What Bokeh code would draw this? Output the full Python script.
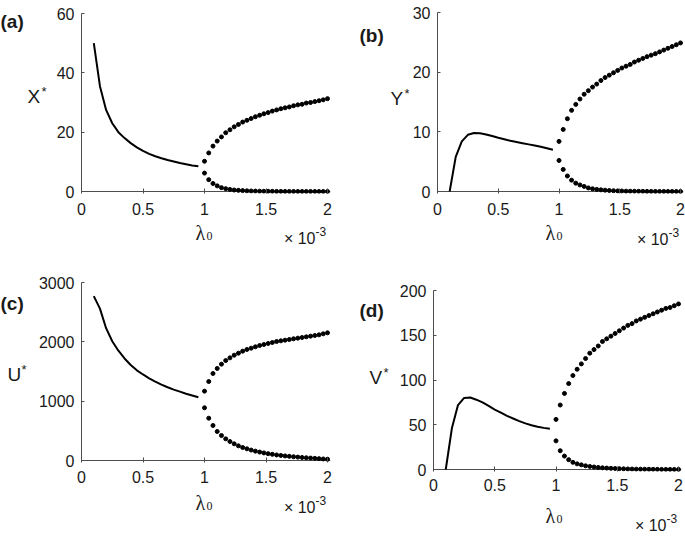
from bokeh.plotting import figure
from bokeh.models import Range1d, FixedTicker, Label, Span
from bokeh.layouts import column, row
from bokeh.embed import file_html
from bokeh.resources import INLINE

# ---------------- data (lambda_0 in units of 1e-3) ----------------
lam_solid = [0.10, 0.15, 0.20, 0.25, 0.30, 0.35, 0.40, 0.45, 0.50,
             0.55, 0.60, 0.65, 0.70, 0.75, 0.80, 0.85, 0.90, 0.95]
lam_dots = [1.0, 1.0345, 1.069, 1.1034, 1.1379, 1.1724, 1.2069, 1.2414,
            1.2759, 1.3103, 1.3448, 1.3793, 1.4138, 1.4483, 1.4828, 1.5172,
            1.5517, 1.5862, 1.6207, 1.6552, 1.6897, 1.7241, 1.7586, 1.7931,
            1.8276, 1.8621, 1.8966, 1.931, 1.9655, 2.0]
x_ticks = [0, 0.5, 1, 1.5, 2]
x_tick_labels = ["0", "0.5", "1", "1.5", "2"]

# (a) X*
X_solid = [50, 35.5, 27.5, 23.0, 20.0, 18.0, 16.3, 14.9, 13.7, 12.7, 11.9,
           11.2, 10.6, 10.1, 9.6, 9.2, 8.8, 8.5]
X_upper = [10.2, 13.0, 15.3, 17.0, 18.4, 19.8, 20.8, 21.8, 22.6, 23.4,
           24.0, 24.6, 25.2, 25.7, 26.2, 26.6, 27.1, 27.5, 27.9, 28.2,
           28.5, 28.9, 29.2, 29.4, 29.8, 30.0, 30.3, 30.6, 30.9, 31.3]
X_lower = [6.2, 4.0, 2.7, 1.9, 1.3, 0.95, 0.7, 0.5, 0.4, 0.3,
           0.22, 0.17, 0.13, 0.1, 0.08, 0.06, 0.05, 0.04, 0.03, 0.02,
           0.02, 0.015, 0.01, 0.01, 0.01, 0.005, 0.005, 0.005, 0.0, 0.0]
X_yticks = [0, 20, 40, 60]

# (b) Y*
Y_solid = [0, 5.8, 8.4, 9.5, 9.8, 9.75, 9.55, 9.3, 9.0, 8.75, 8.5, 8.3,
           8.1, 7.9, 7.7, 7.5, 7.25, 7.0]
Y_upper = [8.4, 10.4, 12.2, 13.6, 14.6, 15.5, 16.3, 16.9, 17.5, 18.0,
           18.6, 19.1, 19.5, 19.9, 20.3, 20.7, 21.0, 21.3, 21.7, 22.0,
           22.3, 22.6, 22.85, 23.1, 23.4, 23.7, 24.0, 24.3, 24.6, 24.9]
Y_lower = [5.2, 3.7, 2.6, 1.9, 1.4, 1.1, 0.85, 0.6, 0.45, 0.35,
           0.28, 0.22, 0.17, 0.13, 0.1, 0.08, 0.06, 0.05, 0.04, 0.03,
           0.025, 0.02, 0.015, 0.01, 0.01, 0.01, 0.005, 0.005, 0.005, 0.0]
Y_yticks = [0, 10, 20, 30]

# (c) U*
U_solid = [2770, 2560, 2230, 2010, 1850, 1720, 1610, 1520, 1450, 1385,
           1330, 1280, 1235, 1195, 1160, 1125, 1095, 1065]
U_upper = [1169, 1331, 1466, 1551, 1624, 1685, 1730, 1775, 1809, 1843,
           1871, 1893, 1916, 1938, 1955, 1972, 1989, 2006, 2017, 2028,
           2039, 2051, 2062, 2073, 2084, 2096, 2107, 2118, 2135, 2152]
U_lower = [888, 713, 590, 489, 421, 365, 320, 281, 247, 219,
           197, 176, 158, 142, 128, 115, 104, 94, 85, 77,
           70, 63, 57, 51, 46, 41, 36, 31, 26, 22]
U_yticks = [0, 1000, 2000, 3000]

# (d) V*
V_solid = [0, 46, 72, 80, 80.5, 78, 75, 71, 67, 63.5, 60, 57, 54, 51.5,
           49.5, 47.8, 46.5, 45.5]
V_upper = [56, 72, 85, 96, 105, 112, 118, 124, 130, 134,
           138, 143, 146, 149, 152, 155, 158, 161, 163, 166,
           168, 170, 172, 174, 176, 178, 180, 181, 183, 185]
V_lower = [32, 21, 15, 11, 8, 6.3, 5.2, 4.1, 3.4, 2.8,
           2.3, 1.9, 1.6, 1.3, 1.1, 0.9, 0.75, 0.6, 0.5, 0.4,
           0.35, 0.3, 0.25, 0.2, 0.15, 0.12, 0.1, 0.08, 0.06, 0.05]
V_yticks = [0, 50, 100, 150, 200]

# ---------------- styling / layout ----------------
INK = "#1a1a1a"
AXC = "#4d4d4d"
SANS = "Liberation Sans"
SERIF = "Liberation Serif"
PAD_R, PAD_B = 3, 2


def plot_fig(box, frame, solid, upper, lower, yticks, xstand):
    ox, oy, W, H = box
    x0, x2, y0, yt = frame
    ymax = yticks[-1]
    fw = x2 - x0 + PAD_R
    fh = y0 - yt + PAD_B
    fl = x0 - ox
    ft = yt - oy
    sx = 2.0 / (x2 - x0)
    sy = ymax / (y0 - yt)
    p = figure(width=W, height=H, output_backend="svg", toolbar_location=None,
               x_range=Range1d(0, fw * sx), y_range=Range1d(-PAD_B * sy, ymax),
               min_border_left=fl, min_border_right=W - fl - fw,
               min_border_top=ft, min_border_bottom=H - ft - fh)
    p.outline_line_color = None
    p.grid.visible = False
    p.background_fill_color = "white"
    p.border_fill_color = "white"

    xa = p.xaxis[0]
    xa.ticker = FixedTicker(ticks=x_ticks)
    xa.major_label_overrides = {t: s for t, s in zip(x_ticks, x_tick_labels)}
    xa.axis_line_color = None
    xa.major_tick_in = 3 + PAD_B
    xa.major_tick_out = 0
    xa.minor_tick_line_color = None
    xa.major_tick_line_color = AXC
    xa.major_label_standoff = xstand
    ya = p.yaxis[0]
    ya.ticker = FixedTicker(ticks=yticks)
    ya.bounds = (0, ymax)
    ya.axis_line_color = AXC
    ya.major_tick_in = 3
    ya.major_tick_out = 0
    ya.minor_tick_line_color = None
    ya.major_tick_line_color = AXC
    ya.major_label_standoff = 7
    for a in (xa, ya):
        a.major_label_text_font = SANS
        a.major_label_text_font_size = "16px"
        a.major_label_text_color = INK
    p.add_layout(Span(location=0, dimension="width", line_color=AXC,
                      line_width=1, level="underlay"))

    p.line(lam_solid, solid, line_color="black", line_width=2)
    p.scatter(lam_dots, upper, size=4, color="black")
    p.scatter(lam_dots, lower, size=4, color="black")
    return p


def text_fig(box, items):
    ox, oy, W, H = box
    t = figure(width=W, height=H, output_backend="svg", toolbar_location=None,
               x_range=Range1d(ox, ox + W), y_range=Range1d(oy + H, oy),
               x_axis_location=None, y_axis_location=None, min_border=0)
    t.outline_line_color = None
    t.grid.visible = False
    t.background_fill_color = "white"
    t.border_fill_color = "white"
    for px, py, text, size, font, style, align in items:
        t.add_layout(Label(x=px, y=py, text=text, text_font=font,
                           text_font_size=f"{size}px", text_font_style=style,
                           text_align=align, text_baseline="alphabetic",
                           text_color=INK))
    return t


def left_items(letter, lx, lby, var, vx, vby):
    return [(lx, lby, letter, 19, SANS, "bold", "left"),
            (vx, vby, var, 19, SANS, "normal", "left"),
            (vx + 14, vby - 6, "*", 13, SANS, "normal", "left")]


def bottom_items(cx, lam_by, x2, mul_by):
    return [(cx - 9, lam_by, "\u03bb", 20, SERIF, "normal", "left"),
            (cx + 2, lam_by + 3, "0", 12, SERIF, "normal", "left"),
            (x2 - 12, mul_by, "\u00d7 10", 16, SANS, "normal", "right"),
            (x2 - 12, mul_by - 7, "-3", 12, SANS, "normal", "left")]


# panel (a)
pa = plot_fig((50, 0, 292, 221), (81, 327, 191, 13), X_solid, X_upper, X_lower, X_yticks, 9)
la = text_fig((0, 0, 50, 221), left_items("(a)", 0, 10, "X", 27, 102))
ba = text_fig((0, 221, 342, 47), bottom_items(204, 232, 327, 238))
# panel (b)
pb = plot_fig((409, 0, 276, 221), (435, 680, 191, 12), Y_solid, Y_upper, Y_lower, Y_yticks, 9)
lb = text_fig((342, 0, 67, 221), left_items("(b)", 359, 28, "Y", 390, 105))
bb = text_fig((342, 221, 343, 47), bottom_items(554, 232, 680, 239))
# panel (c)
pc = plot_fig((34, 268, 308, 221), (81, 327, 460, 282), U_solid, U_upper, U_lower, U_yticks, 8)
lc = text_fig((0, 268, 34, 221), left_items("(c)", 0, 294, "U", 7, 381))
bc = text_fig((0, 489, 342, 48), bottom_items(204, 502, 327, 507))
# panel (d)
pd = plot_fig((395, 268, 290, 229), (433, 678, 469, 290), V_solid, V_upper, V_lower, V_yticks, 7)
ld = text_fig((342, 268, 53, 229), left_items("(d)", 359, 293, "V", 369, 378))
bd = text_fig((342, 497, 343, 40), bottom_items(554, 515, 678, 525))

blk_a = column(row(la, pa), ba)
blk_b = column(row(lb, pb), bb)
blk_c = column(row(lc, pc), bc)
blk_d = column(row(ld, pd), bd)
layout = column(row(blk_a, blk_b), row(blk_c, blk_d))
open("out.html", "w").write(file_html(layout, INLINE))
